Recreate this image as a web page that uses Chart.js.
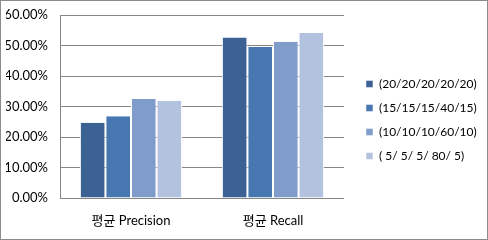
<!DOCTYPE html>
<html>
<head>
<meta charset="utf-8">
<script src="https://cdn.jsdelivr.net/npm/chart.js@4"></script>
<style>
  body { margin: 0; background: #fff; }
  #wrap { width: 488px; height: 240px; }
</style>
</head>
<body>
<div id="wrap"><canvas id="barChart" width="488" height="240"></canvas></div>
<script>
// data (percent)
var categories = ["평균 Precision", "평균 Recall"];
var seriesNames = ["(20/20/20/20/20)", "(15/15/15/40/15)", "(10/10/10/60/10)", "( 5/ 5/ 5/ 80/ 5)"];
var s1 = [24.7, 52.6];
var s2 = [26.8, 49.5];
var s3 = [32.5, 51.2];
var s4 = [31.9, 54.1];
var colors = ["#3c6294", "#4677b0", "#7f9cca", "#b3c3df"];

var font = "Lato, 'Noto Sans CJK KR', sans-serif";

// outer frame like the office chart border, and a bit more gap before the legend
var framePlugin = {
    id: "frame",
    afterLayout: function (chart) {
        chart.legend.left += 10;
        chart.legend.right += 10;
    },
    afterDraw: function (chart) {
        var c = chart.ctx;
        c.save();
        c.strokeStyle = "#8c8c8c";
        c.lineWidth = 1;
        c.strokeRect(0.5, 0.5, chart.width - 1, chart.height - 1);
        c.restore();
    }
};

var ctx = document.getElementById("barChart").getContext("2d");
var barChart = new Chart(ctx, {
    type: "bar",
    data: {
        labels: categories,
        datasets: [s1, s2, s3, s4].map(function (d, i) {
            return {
                label: seriesNames[i],
                data: d,
                backgroundColor: colors[i],
                borderColor: "#ffffff",
                borderWidth: { left: 1, right: 1, top: 0, bottom: 0 },
                categoryPercentage: 0.72,
                barPercentage: 1.0
            };
        })
    },
    options: {
        responsive: false,
        animation: false,
        layout: { padding: { top: -3.8, left: 6, right: 11.3, bottom: -3.6 } },
        plugins: {
            tooltip: { enabled: false },
            legend: {
                position: "right",
                align: "center",
                maxWidth: 150,
                labels: {
                    boxWidth: 7,
                    boxHeight: 7,
                    padding: 12,
                    color: "#000",
                    font: { family: font, size: 12 }
                }
            }
        },
        scales: {
            x: {
                grid: { display: false, drawTicks: false },
                border: { color: "#868686" },
                ticks: { color: "#000", padding: 15, font: { family: font, size: 13 } }
            },
            y: {
                min: 0,
                max: 60,
                grid: { color: "#868686", drawTicks: false },
                border: { color: "#868686" },
                afterFit: function (axis) {
                    axis.width = 54;
                    axis.paddingTop = 15;
                },
                ticks: {
                    stepSize: 10,
                    padding: 12,
                    color: "#000",
                    font: { family: font, size: 13 },
                    callback: function (v) { return v.toFixed(2) + "%"; }
                }
            }
        }
    },
    plugins: [framePlugin]
});
</script>
</body>
</html>
